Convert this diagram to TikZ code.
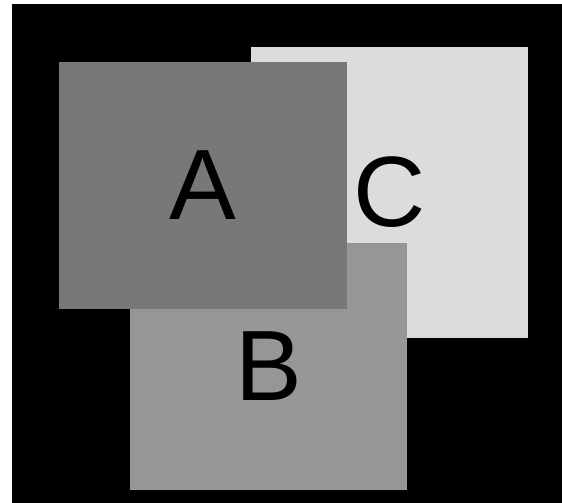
\documentclass[tikz,border=0pt]{standalone}
\usepackage{fontspec}
\setmainfont{Liberation Sans}
\usepackage{xcolor}
\definecolor{panelDark}{HTML}{787878}
\definecolor{panelMid}{HTML}{969696}
\definecolor{panelLight}{HTML}{DCDCDC}
\begin{document}
\begin{tikzpicture}[x=1pt,y=-1pt, every node/.style={font=\fontsize{100}{100}\selectfont},
    panel/.style={rectangle, inner sep=0pt, outer sep=0pt, text=black}]
    \useasboundingbox (0,0) rectangle (562,503);
    \fill[black] (12,4) rectangle (562,503);
    \node[panel, fill=panelLight, minimum width=277pt, minimum height=291pt] (c) at (389.5,192.5) {C};
    \node[panel, fill=panelMid, minimum width=277pt, minimum height=247pt] (b) at (268.5,366.5) {B};
    \node[panel, fill=panelDark, minimum width=288pt, minimum height=247pt] (a) at (203,185.5) {A};
  \end{tikzpicture}
\end{document}
